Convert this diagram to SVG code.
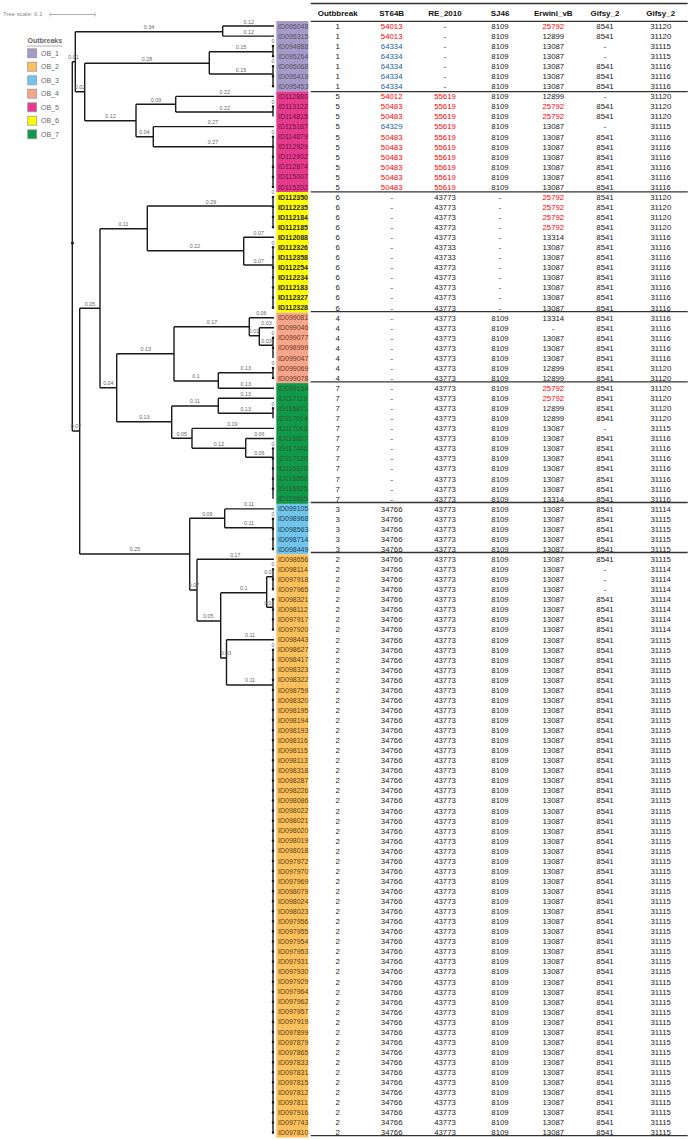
<svg xmlns="http://www.w3.org/2000/svg" xmlns:xlink="http://www.w3.org/1999/xlink" width="691" height="1140" viewBox="0 0 691 1140">
<style>
.t{font-family:"Liberation Sans",Arial,sans-serif;font-size:7.8px;fill:#1a1a1a;text-anchor:middle}
.r{fill:#ff0000}
.b{fill:#215fa6}
.hd{font-family:"Liberation Sans",Arial,sans-serif;font-size:8px;font-weight:bold;fill:#111;text-anchor:middle}
.lb{font-family:"Liberation Sans",Arial,sans-serif;font-size:7px}
.bl{font-family:"Liberation Sans",Arial,sans-serif;font-size:5.3px;fill:#666;text-anchor:middle}
.tr{stroke:#1a1a1a;stroke-width:1.4;fill:none}
.dots{stroke:#1a1a1a;stroke-width:2.6;stroke-linecap:round;stroke-dasharray:0 10.06;fill:none}
.sep{stroke:#333;stroke-width:1.3}
.lg{font-family:"Liberation Sans",Arial,sans-serif;font-size:7px;fill:#666}
.sq{stroke:#999;stroke-width:0.8}
.ob1 text{fill:#555}
.ob5 text{fill:#6e1538}
.ob6 text{fill:#222;font-weight:bold}
.ob4 text{fill:#6a3a2c}
.ob7 text{fill:#2f5a38}
.ob3 text{fill:#22405a}
.ob2 text{fill:#5a4312}
</style>
<defs>
<g id="T1a" class="t" transform="translate(0,2.8)"><text x="337.7">1</text><text x="391.7" class="r">54013</text><text x="445">-</text><text x="500">8109</text><text x="553.3" class="r">25792</text><text x="605">8541</text><text x="660.7">31120</text></g>
<g id="T1b" class="t" transform="translate(0,2.8)"><text x="337.7">1</text><text x="391.7" class="r">54013</text><text x="445">-</text><text x="500">8109</text><text x="553.3">12899</text><text x="605">8541</text><text x="660.7">31120</text></g>
<g id="T1c" class="t" transform="translate(0,2.8)"><text x="337.7">1</text><text x="391.7" class="b">64334</text><text x="445">-</text><text x="500">8109</text><text x="553.3">13087</text><text x="605">-</text><text x="660.7">31115</text></g>
<g id="T1d" class="t" transform="translate(0,2.8)"><text x="337.7">1</text><text x="391.7" class="b">64334</text><text x="445">-</text><text x="500">8109</text><text x="553.3">13087</text><text x="605">8541</text><text x="660.7">31116</text></g>
<g id="T5a" class="t" transform="translate(0,2.8)"><text x="337.7">5</text><text x="391.7" class="r">54012</text><text x="445" class="r">55619</text><text x="500">8109</text><text x="553.3">12899</text><text x="605">-</text><text x="660.7">31120</text></g>
<g id="T5b" class="t" transform="translate(0,2.8)"><text x="337.7">5</text><text x="391.7" class="r">50483</text><text x="445" class="r">55619</text><text x="500">8109</text><text x="553.3" class="r">25792</text><text x="605">8541</text><text x="660.7">31120</text></g>
<g id="T5c" class="t" transform="translate(0,2.8)"><text x="337.7">5</text><text x="391.7" class="b">64329</text><text x="445" class="r">55619</text><text x="500">8109</text><text x="553.3">13087</text><text x="605">-</text><text x="660.7">31115</text></g>
<g id="T5d" class="t" transform="translate(0,2.8)"><text x="337.7">5</text><text x="391.7" class="r">50483</text><text x="445" class="r">55619</text><text x="500">8109</text><text x="553.3">13087</text><text x="605">8541</text><text x="660.7">31116</text></g>
<g id="T6a" class="t" transform="translate(0,2.8)"><text x="337.7">6</text><text x="391.7">-</text><text x="445">43773</text><text x="500">-</text><text x="553.3" class="r">25792</text><text x="605">8541</text><text x="660.7">31120</text></g>
<g id="T6b" class="t" transform="translate(0,2.8)"><text x="337.7">6</text><text x="391.7">-</text><text x="445">43773</text><text x="500">-</text><text x="553.3">13314</text><text x="605">8541</text><text x="660.7">31116</text></g>
<g id="T6c" class="t" transform="translate(0,2.8)"><text x="337.7">6</text><text x="391.7">-</text><text x="445">43733</text><text x="500">-</text><text x="553.3">13087</text><text x="605">8541</text><text x="660.7">31116</text></g>
<g id="T6d" class="t" transform="translate(0,2.8)"><text x="337.7">6</text><text x="391.7">-</text><text x="445">43773</text><text x="500">-</text><text x="553.3">13087</text><text x="605">8541</text><text x="660.7">31116</text></g>
<g id="T4a" class="t" transform="translate(0,2.8)"><text x="337.7">4</text><text x="391.7">-</text><text x="445">43773</text><text x="500">8109</text><text x="553.3">13314</text><text x="605">8541</text><text x="660.7">31116</text></g>
<g id="T4b" class="t" transform="translate(0,2.8)"><text x="337.7">4</text><text x="391.7">-</text><text x="445">43773</text><text x="500">8109</text><text x="553.3">-</text><text x="605">8541</text><text x="660.7">31116</text></g>
<g id="T4c" class="t" transform="translate(0,2.8)"><text x="337.7">4</text><text x="391.7">-</text><text x="445">43773</text><text x="500">8109</text><text x="553.3">13087</text><text x="605">8541</text><text x="660.7">31116</text></g>
<g id="T4d" class="t" transform="translate(0,2.8)"><text x="337.7">4</text><text x="391.7">-</text><text x="445">43773</text><text x="500">8109</text><text x="553.3">12899</text><text x="605">8541</text><text x="660.7">31120</text></g>
<g id="T7a" class="t" transform="translate(0,2.8)"><text x="337.7">7</text><text x="391.7">-</text><text x="445">43773</text><text x="500">8109</text><text x="553.3" class="r">25792</text><text x="605">8541</text><text x="660.7">31120</text></g>
<g id="T7b" class="t" transform="translate(0,2.8)"><text x="337.7">7</text><text x="391.7">-</text><text x="445">43773</text><text x="500">8109</text><text x="553.3">12899</text><text x="605">8541</text><text x="660.7">31120</text></g>
<g id="T7c" class="t" transform="translate(0,2.8)"><text x="337.7">7</text><text x="391.7">-</text><text x="445">43773</text><text x="500">8109</text><text x="553.3">13087</text><text x="605">-</text><text x="660.7">31115</text></g>
<g id="T7d" class="t" transform="translate(0,2.8)"><text x="337.7">7</text><text x="391.7">-</text><text x="445">43773</text><text x="500">8109</text><text x="553.3">13087</text><text x="605">8541</text><text x="660.7">31116</text></g>
<g id="T7e" class="t" transform="translate(0,2.8)"><text x="337.7">7</text><text x="391.7">-</text><text x="445">43773</text><text x="500">8109</text><text x="553.3">13314</text><text x="605">8541</text><text x="660.7">31116</text></g>
<g id="T3a" class="t" transform="translate(0,2.8)"><text x="337.7">3</text><text x="391.7">34766</text><text x="445">43773</text><text x="500">8109</text><text x="553.3">13087</text><text x="605">8541</text><text x="660.7">31114</text></g>
<g id="T3b" class="t" transform="translate(0,2.8)"><text x="337.7">3</text><text x="391.7">34766</text><text x="445">43773</text><text x="500">8109</text><text x="553.3">13087</text><text x="605">8541</text><text x="660.7">31115</text></g>
<g id="T2a" class="t" transform="translate(0,2.8)"><text x="337.7">2</text><text x="391.7">34766</text><text x="445">43773</text><text x="500">8109</text><text x="553.3">13087</text><text x="605">8541</text><text x="660.7">31115</text></g>
<g id="T2b" class="t" transform="translate(0,2.8)"><text x="337.7">2</text><text x="391.7">34766</text><text x="445">43773</text><text x="500">8109</text><text x="553.3">13087</text><text x="605">-</text><text x="660.7">31114</text></g>
<g id="T2c" class="t" transform="translate(0,2.8)"><text x="337.7">2</text><text x="391.7">34766</text><text x="445">43773</text><text x="500">8109</text><text x="553.3">13087</text><text x="605">8541</text><text x="660.7">31114</text></g>
</defs>
<rect width="691" height="1140" fill="#fff"/>

<g id="legend">
<text x="3" y="16" font-family="Liberation Sans, Arial, sans-serif" font-size="6px" fill="#888">Tree scale: 0.1</text>
<path d="M50 14.5H95M50 12.5V16.5M95 12.5V16.5" stroke="#999" stroke-width="0.8" fill="none"/>
<text x="27.5" y="42.5" class="lg" font-weight="bold" fill="#555">Outbreaks</text>
<line x1="27" y1="46" x2="62" y2="46" stroke="#999" stroke-width="0.8"/>
<rect class="sq" x="27.7" y="48.8" width="9" height="9" fill="#a59bcb"/><text class="lg" x="41" y="55.8">OB_1</text>
<rect class="sq" x="27.7" y="62.2" width="9" height="9" fill="#fcc05e"/><text class="lg" x="41" y="69.2">OB_2</text>
<rect class="sq" x="27.7" y="75.8" width="9" height="9" fill="#71c5ea"/><text class="lg" x="41" y="82.8">OB_3</text>
<rect class="sq" x="27.7" y="89.2" width="9" height="9" fill="#f8a68a"/><text class="lg" x="41" y="96.2">OB_4</text>
<rect class="sq" x="27.7" y="102.8" width="9" height="9" fill="#e53a8e"/><text class="lg" x="41" y="109.8">OB_5</text>
<rect class="sq" x="27.7" y="116.2" width="9" height="9" fill="#ffff00"/><text class="lg" x="41" y="123.2">OB_6</text>
<rect class="sq" x="27.7" y="129.8" width="9" height="9" fill="#10994a"/><text class="lg" x="41" y="136.8">OB_7</text>
</g>

<g id="connectors">
<path class="tr" d="M72.3 61.7V431M72.3 61.7H75.3M75.3 31.7V91.7M75.3 31.7H222.7M222.7 26V36.1M222.7 26H274M222.7 36.1H274
M75.3 91.7H84.7M84.7 63.3V120.7M84.7 63.3H209.3M209.3 51.7V74M209.3 51.7H273M209.3 74H273
M84.7 120.7H136M136 104.3V136.7M136 104.3H175.7M175.7 96.4V112M175.7 96.4H274M175.7 112H273
M136 136.7H153.3M153.3 126.6V146.7M153.3 126.6H274M153.3 146.7H273
M72.3 431H79.7M79.7 308.3V554M79.7 308.3H100M100 228.7V387.7M100 228.7H147.3M147.3 206V250.7M147.3 206H273
M147.3 250.7H243.7M243.7 237.3V265M243.7 237.3H274M243.7 265H273
M100 387.7H116.7M116.7 353.7V421.7M116.7 353.7H174M174 326.7V381M174 326.7H249.3M249.3 317.7V335.7M249.3 317.7H274
M249.3 335.7H259.3M259.3 327.8V345.3M259.3 327.8H274M259.3 345.3H273
M174 381H218.3M218.3 372.7V388.2M218.3 372.7H273M218.3 388.2H274
M116.7 421.7H171.7M171.7 406V438.3M171.7 406H218.3M218.3 398.2V413.3M218.3 398.2H274M218.3 413.3H273
M171.7 438.3H192M192 428.4V448.3M192 428.4H274M192 448.3H245.7M245.7 438.5V457.3M245.7 438.5H274M245.7 457.3H273
M79.7 554H189.7M189.7 518.3V590M189.7 518.3H224.7M224.7 508.9V527.7M224.7 508.9H274M224.7 527.7H273
M189.7 590H197M197 559.2V621M197 559.2H274M197 621H220.7M220.7 592.7V658M220.7 592.7H266.7M266.7 576.7V607.3M266.7 576.7H273M266.7 607.3H273
M220.7 658H226.5M226.5 639.7V685M226.5 639.7H274M226.5 685H273
M273 46.1V56.2M273 66.2V86.4M273 106.5V116.5M273 136.7V187M273 197V227.2M273 247.3V307.7M273 337.9V358M273 368V378.1M273 408.3V418.3M273 448.5V498.8M273 518.9V549.1M273 569.2V589.4M273 599.4V629.6M273 649.7V1132.6"/>
<path class="dots" d="M273 46.1V56.2M273 66.2V86.4M273 106.5V116.5M273 136.7V187M273 197V227.2M273 247.3V307.7M273 337.9V358M273 368V378.1M273 408.3V418.3M273 448.5V498.8M273 518.9V549.1M273 569.2V589.4M273 599.4V629.6M273 649.7V1132.6"/>
<circle cx="72.5" cy="243" r="1.6" fill="#222"/>
<g class="bl">
<text x="73.5" y="59">0.01</text><text x="149" y="29">0.34</text><text x="248.7" y="23.5">0.12</text><text x="248.7" y="33.5">0.12</text>
<text x="80" y="89">0.02</text><text x="147" y="60.7">0.28</text><text x="241" y="49">0.15</text><text x="241" y="71.5">0.15</text>
<text x="110.5" y="118">0.12</text><text x="156" y="101.7">0.09</text><text x="224.7" y="94">0.22</text><text x="224.7" y="109.5">0.22</text>
<text x="144.5" y="134">0.04</text><text x="213" y="124">0.27</text><text x="213" y="144">0.27</text>
<text x="76" y="428.3">0.07</text><text x="90" y="305.7">0.05</text><text x="123.5" y="226">0.11</text><text x="211" y="203.5">0.29</text>
<text x="195" y="248">0.22</text><text x="258.7" y="234.8">0.07</text><text x="258.7" y="262.5">0.07</text>
<text x="108.3" y="385">0.04</text><text x="145.7" y="351">0.13</text><text x="212" y="324">0.17</text><text x="261.3" y="315">0.06</text>
<text x="254" y="333">0.01</text><text x="266.5" y="325.2">0.03</text><text x="266.5" y="342.7">0.03</text>
<text x="196" y="378.3">0.1</text><text x="245.7" y="370">0.13</text><text x="245.7" y="385.6">0.13</text>
<text x="144.3" y="419">0.13</text><text x="195" y="403.2">0.11</text><text x="245.7" y="395.6">0.13</text><text x="245.7" y="410.7">0.13</text>
<text x="181.7" y="435.7">0.05</text><text x="232.3" y="425.8">0.19</text><text x="219" y="445.7">0.12</text><text x="259.3" y="435.9">0.06</text><text x="259.3" y="454.7">0.06</text>
<text x="135" y="551.3">0.25</text><text x="207.3" y="515.7">0.09</text><text x="249" y="506.3">0.11</text><text x="249" y="525.1">0.11</text>
<text x="194" y="587.4">0.07</text><text x="235.3" y="556.6">0.17</text><text x="208.3" y="618.4">0.05</text><text x="243.7" y="590.1">0.1</text>
<text x="269.3" y="574.1">0.01</text><text x="269.3" y="604.7">0.01</text><text x="226" y="655.3">0.03</text>
<text x="250" y="637.1">0.11</text><text x="250" y="682.4">0.11</text>
<text x="273" y="43.3">0</text><text x="273" y="63.4">0</text><text x="273" y="103.7">0</text><text x="273" y="133.9">0</text><text x="273" y="194.2">0</text>
<text x="273" y="244.5">0</text><text x="273" y="335.1">0</text><text x="273" y="365.2">0</text><text x="273" y="405.5">0</text><text x="273" y="445.7">0</text>
<text x="273" y="516.1">0</text><text x="273" y="566.4">0</text><text x="273" y="646.9">0</text>
</g>
</g>

<g id="table-frame">
<line class="sep" x1="310.7" y1="3.5" x2="687.7" y2="3.5" stroke-width="1.6"/>
<line class="sep" x1="310.7" y1="21.3" x2="687.7" y2="21.3" stroke-width="1.6"/>
<text class="hd" x="337.7" y="16.2">Outbbreak</text><text class="hd" x="391.7" y="16.2">ST64B</text><text class="hd" x="445" y="16.2">RE_2010</text><text class="hd" x="500" y="16.2">SJ46</text><text class="hd" x="553.3" y="16.2">Erwini_vB</text><text class="hd" x="605" y="16.2">Gifsy_2</text><text class="hd" x="660.7" y="16.2">Gifsy_2</text>
<line class="sep" x1="310.7" y1="91.7" x2="687.7" y2="91.7"/>
<line class="sep" x1="310.7" y1="191.8" x2="687.7" y2="191.8"/>
<line class="sep" x1="310.7" y1="311.6" x2="687.7" y2="311.6"/>
<line class="sep" x1="310.7" y1="381.8" x2="687.7" y2="381.8"/>
<line class="sep" x1="310.7" y1="502.5" x2="687.7" y2="502.5"/>
<line class="sep" x1="310.7" y1="552.5" x2="687.7" y2="552.5"/>
<line class="sep" x1="310.7" y1="1135.6" x2="687.7" y2="1135.6"/>
</g>

<g id="OB_1" class="ob1">
<rect x="276.3" y="21" width="32" height="70.4" fill="#a59bcb"/>
<g id="ID095048"><text class="lb" x="278" y="28.5">ID095048</text><use xlink:href="#T1a" y="26"/></g>
<g id="ID095315"><text class="lb" x="278" y="38.6">ID095315</text><use xlink:href="#T1b" y="36.1"/></g>
<g id="ID094888"><text class="lb" x="278" y="48.6">ID094888</text><use xlink:href="#T1c" y="46.1"/></g>
<g id="ID095264"><text class="lb" x="278" y="58.7">ID095264</text><use xlink:href="#T1c" y="56.2"/></g>
<g id="ID095068"><text class="lb" x="278" y="68.7">ID095068</text><use xlink:href="#T1d" y="66.2"/></g>
<g id="ID095419"><text class="lb" x="278" y="78.8">ID095419</text><use xlink:href="#T1d" y="76.3"/></g>
<g id="ID095453"><text class="lb" x="278" y="88.9">ID095453</text><use xlink:href="#T1d" y="86.4"/></g>
</g>

<g id="OB_5" class="ob5">
<rect x="276.3" y="91.4" width="32" height="100.6" fill="#e53a8e"/>
<g id="ID112880"><text class="lb" x="278" y="98.9">ID112880</text><use xlink:href="#T5a" y="96.4"/></g>
<g id="ID113122"><text class="lb" x="278" y="109">ID113122</text><use xlink:href="#T5b" y="106.5"/></g>
<g id="ID114815"><text class="lb" x="278" y="119">ID114815</text><use xlink:href="#T5b" y="116.5"/></g>
<g id="ID115167"><text class="lb" x="278" y="129.1">ID115167</text><use xlink:href="#T5c" y="126.6"/></g>
<g id="ID114879"><text class="lb" x="278" y="139.2">ID114879</text><use xlink:href="#T5d" y="136.7"/></g>
<g id="ID112929"><text class="lb" x="278" y="149.2">ID112929</text><use xlink:href="#T5d" y="146.7"/></g>
<g id="ID112902"><text class="lb" x="278" y="159.3">ID112902</text><use xlink:href="#T5d" y="156.8"/></g>
<g id="ID112874"><text class="lb" x="278" y="169.3">ID112874</text><use xlink:href="#T5d" y="166.8"/></g>
<g id="ID115007"><text class="lb" x="278" y="179.4">ID115007</text><use xlink:href="#T5d" y="176.9"/></g>
<g id="ID115202"><text class="lb" x="278" y="189.5">ID115202</text><use xlink:href="#T5d" y="187"/></g>
</g>

<g id="OB_6" class="ob6">
<rect x="276.3" y="192" width="32" height="120.7" fill="#ffff00"/>
<g id="ID112350"><text class="lb" x="278" y="199.5">ID112350</text><use xlink:href="#T6a" y="197"/></g>
<g id="ID112235"><text class="lb" x="278" y="209.6">ID112235</text><use xlink:href="#T6a" y="207.1"/></g>
<g id="ID112184"><text class="lb" x="278" y="219.6">ID112184</text><use xlink:href="#T6a" y="217.1"/></g>
<g id="ID112185"><text class="lb" x="278" y="229.7">ID112185</text><use xlink:href="#T6a" y="227.2"/></g>
<g id="ID112088"><text class="lb" x="278" y="239.8">ID112088</text><use xlink:href="#T6b" y="237.3"/></g>
<g id="ID112326"><text class="lb" x="278" y="249.8">ID112326</text><use xlink:href="#T6c" y="247.3"/></g>
<g id="ID112358"><text class="lb" x="278" y="259.9">ID112358</text><use xlink:href="#T6c" y="257.4"/></g>
<g id="ID112254"><text class="lb" x="278" y="269.9">ID112254</text><use xlink:href="#T6d" y="267.4"/></g>
<g id="ID112234"><text class="lb" x="278" y="280">ID112234</text><use xlink:href="#T6d" y="277.5"/></g>
<g id="ID112183"><text class="lb" x="278" y="290.1">ID112183</text><use xlink:href="#T6d" y="287.6"/></g>
<g id="ID112327"><text class="lb" x="278" y="300.1">ID112327</text><use xlink:href="#T6d" y="297.6"/></g>
<g id="ID112328"><text class="lb" x="278" y="310.2">ID112328</text><use xlink:href="#T6d" y="307.7"/></g>
</g>

<g id="OB_4" class="ob4">
<rect x="276.3" y="312.7" width="32" height="70.4" fill="#f8a68a"/>
<g id="ID099081"><text class="lb" x="278" y="320.2">ID099081</text><use xlink:href="#T4a" y="317.7"/></g>
<g id="ID099046"><text class="lb" x="278" y="330.3">ID099046</text><use xlink:href="#T4b" y="327.8"/></g>
<g id="ID099077"><text class="lb" x="278" y="340.4">ID099077</text><use xlink:href="#T4c" y="337.9"/></g>
<g id="ID098999"><text class="lb" x="278" y="350.4">ID098999</text><use xlink:href="#T4c" y="347.9"/></g>
<g id="ID099047"><text class="lb" x="278" y="360.5">ID099047</text><use xlink:href="#T4c" y="358"/></g>
<g id="ID099069"><text class="lb" x="278" y="370.5">ID099069</text><use xlink:href="#T4d" y="368"/></g>
<g id="ID099078"><text class="lb" x="278" y="380.6">ID099078</text><use xlink:href="#T4d" y="378.1"/></g>
</g>

<g id="OB_7" class="ob7">
<rect x="276.3" y="383.1" width="32" height="120.8" fill="#10994a"/>
<g id="ID099154"><text class="lb" x="278" y="390.7">ID099154</text><use xlink:href="#T7a" y="388.2"/></g>
<g id="ID117119"><text class="lb" x="278" y="400.7">ID117119</text><use xlink:href="#T7a" y="398.2"/></g>
<g id="ID116871"><text class="lb" x="278" y="410.8">ID116871</text><use xlink:href="#T7b" y="408.3"/></g>
<g id="ID117014"><text class="lb" x="278" y="420.8">ID117014</text><use xlink:href="#T7b" y="418.3"/></g>
<g id="ID117018"><text class="lb" x="278" y="430.9">ID117018</text><use xlink:href="#T7c" y="428.4"/></g>
<g id="ID116867"><text class="lb" x="278" y="441">ID116867</text><use xlink:href="#T7d" y="438.5"/></g>
<g id="ID117446"><text class="lb" x="278" y="451">ID117446</text><use xlink:href="#T7d" y="448.5"/></g>
<g id="ID117120"><text class="lb" x="278" y="461.1">ID117120</text><use xlink:href="#T7d" y="458.6"/></g>
<g id="ID116870"><text class="lb" x="278" y="471.1">ID116870</text><use xlink:href="#T7d" y="468.6"/></g>
<g id="ID116866"><text class="lb" x="278" y="481.2">ID116866</text><use xlink:href="#T7d" y="478.7"/></g>
<g id="ID116825"><text class="lb" x="278" y="491.3">ID116825</text><use xlink:href="#T7d" y="488.8"/></g>
<g id="ID116865"><text class="lb" x="278" y="501.3">ID116865</text><use xlink:href="#T7e" y="498.8"/></g>
</g>

<g id="OB_3" class="ob3">
<rect x="276.3" y="503.9" width="32" height="50.3" fill="#71c5ea"/>
<g id="ID099105"><text class="lb" x="278" y="511.4">ID099105</text><use xlink:href="#T3a" y="508.9"/></g>
<g id="ID098968"><text class="lb" x="278" y="521.4">ID098968</text><use xlink:href="#T3b" y="518.9"/></g>
<g id="ID098563"><text class="lb" x="278" y="531.5">ID098563</text><use xlink:href="#T3b" y="529"/></g>
<g id="ID098714"><text class="lb" x="278" y="541.6">ID098714</text><use xlink:href="#T3b" y="539.1"/></g>
<g id="ID098449"><text class="lb" x="278" y="551.6">ID098449</text><use xlink:href="#T3b" y="549.1"/></g>
</g>

<g id="OB_2" class="ob2">
<rect x="276.3" y="554.2" width="32" height="583.4" fill="#fcc05e"/>
<g id="ID098656"><text class="lb" x="278" y="561.7">ID098656</text><use xlink:href="#T2a" y="559.2"/></g>
<g id="ID098114"><text class="lb" x="278" y="571.7">ID098114</text><use xlink:href="#T2b" y="569.2"/></g>
<g id="ID097918"><text class="lb" x="278" y="581.8">ID097918</text><use xlink:href="#T2b" y="579.3"/></g>
<g id="ID097965"><text class="lb" x="278" y="591.9">ID097965</text><use xlink:href="#T2b" y="589.4"/></g>
<g id="ID098321"><text class="lb" x="278" y="601.9">ID098321</text><use xlink:href="#T2c" y="599.4"/></g>
<g id="ID098112"><text class="lb" x="278" y="612">ID098112</text><use xlink:href="#T2c" y="609.5"/></g>
<g id="ID097917"><text class="lb" x="278" y="622">ID097917</text><use xlink:href="#T2c" y="619.5"/></g>
<g id="ID097920"><text class="lb" x="278" y="632.1">ID097920</text><use xlink:href="#T2c" y="629.6"/></g>
<g id="ID098443"><text class="lb" x="278" y="642.2">ID098443</text><use xlink:href="#T2a" y="639.7"/></g>
<g id="ID098627"><text class="lb" x="278" y="652.2">ID098627</text><use xlink:href="#T2a" y="649.7"/></g>
<g id="ID098417"><text class="lb" x="278" y="662.3">ID098417</text><use xlink:href="#T2a" y="659.8"/></g>
<g id="ID098323"><text class="lb" x="278" y="672.3">ID098323</text><use xlink:href="#T2a" y="669.8"/></g>
<g id="ID098322"><text class="lb" x="278" y="682.4">ID098322</text><use xlink:href="#T2a" y="679.9"/></g>
<g id="ID098759"><text class="lb" x="278" y="692.5">ID098759</text><use xlink:href="#T2a" y="690"/></g>
<g id="ID098320"><text class="lb" x="278" y="702.5">ID098320</text><use xlink:href="#T2a" y="700"/></g>
<g id="ID098195"><text class="lb" x="278" y="712.6">ID098195</text><use xlink:href="#T2a" y="710.1"/></g>
<g id="ID098194"><text class="lb" x="278" y="722.6">ID098194</text><use xlink:href="#T2a" y="720.1"/></g>
<g id="ID098193"><text class="lb" x="278" y="732.7">ID098193</text><use xlink:href="#T2a" y="730.2"/></g>
<g id="ID098116"><text class="lb" x="278" y="742.8">ID098116</text><use xlink:href="#T2a" y="740.3"/></g>
<g id="ID098115"><text class="lb" x="278" y="752.8">ID098115</text><use xlink:href="#T2a" y="750.3"/></g>
<g id="ID098113"><text class="lb" x="278" y="762.9">ID098113</text><use xlink:href="#T2a" y="760.4"/></g>
<g id="ID098318"><text class="lb" x="278" y="772.9">ID098318</text><use xlink:href="#T2a" y="770.4"/></g>
<g id="ID098287"><text class="lb" x="278" y="783">ID098287</text><use xlink:href="#T2a" y="780.5"/></g>
<g id="ID098226"><text class="lb" x="278" y="793.1">ID098226</text><use xlink:href="#T2a" y="790.6"/></g>
<g id="ID098086"><text class="lb" x="278" y="803.1">ID098086</text><use xlink:href="#T2a" y="800.6"/></g>
<g id="ID098022"><text class="lb" x="278" y="813.2">ID098022</text><use xlink:href="#T2a" y="810.7"/></g>
<g id="ID098021"><text class="lb" x="278" y="823.2">ID098021</text><use xlink:href="#T2a" y="820.7"/></g>
<g id="ID098020"><text class="lb" x="278" y="833.3">ID098020</text><use xlink:href="#T2a" y="830.8"/></g>
<g id="ID098019"><text class="lb" x="278" y="843.4">ID098019</text><use xlink:href="#T2a" y="840.9"/></g>
<g id="ID098018"><text class="lb" x="278" y="853.4">ID098018</text><use xlink:href="#T2a" y="850.9"/></g>
<g id="ID097972"><text class="lb" x="278" y="863.5">ID097972</text><use xlink:href="#T2a" y="861"/></g>
<g id="ID097970"><text class="lb" x="278" y="873.5">ID097970</text><use xlink:href="#T2a" y="871"/></g>
<g id="ID097969"><text class="lb" x="278" y="883.6">ID097969</text><use xlink:href="#T2a" y="881.1"/></g>
<g id="ID098079"><text class="lb" x="278" y="893.7">ID098079</text><use xlink:href="#T2a" y="891.2"/></g>
<g id="ID098024"><text class="lb" x="278" y="903.7">ID098024</text><use xlink:href="#T2a" y="901.2"/></g>
<g id="ID098023"><text class="lb" x="278" y="913.8">ID098023</text><use xlink:href="#T2a" y="911.3"/></g>
<g id="ID097956"><text class="lb" x="278" y="923.8">ID097956</text><use xlink:href="#T2a" y="921.3"/></g>
<g id="ID097955"><text class="lb" x="278" y="933.9">ID097955</text><use xlink:href="#T2a" y="931.4"/></g>
<g id="ID097954"><text class="lb" x="278" y="944">ID097954</text><use xlink:href="#T2a" y="941.5"/></g>
<g id="ID097953"><text class="lb" x="278" y="954">ID097953</text><use xlink:href="#T2a" y="951.5"/></g>
<g id="ID097931"><text class="lb" x="278" y="964.1">ID097931</text><use xlink:href="#T2a" y="961.6"/></g>
<g id="ID097930"><text class="lb" x="278" y="974.1">ID097930</text><use xlink:href="#T2a" y="971.6"/></g>
<g id="ID097929"><text class="lb" x="278" y="984.2">ID097929</text><use xlink:href="#T2a" y="981.7"/></g>
<g id="ID097964"><text class="lb" x="278" y="994.3">ID097964</text><use xlink:href="#T2a" y="991.8"/></g>
<g id="ID097962"><text class="lb" x="278" y="1004.3">ID097962</text><use xlink:href="#T2a" y="1001.8"/></g>
<g id="ID097957"><text class="lb" x="278" y="1014.4">ID097957</text><use xlink:href="#T2a" y="1011.9"/></g>
<g id="ID097919"><text class="lb" x="278" y="1024.4">ID097919</text><use xlink:href="#T2a" y="1021.9"/></g>
<g id="ID097899"><text class="lb" x="278" y="1034.5">ID097899</text><use xlink:href="#T2a" y="1032"/></g>
<g id="ID097879"><text class="lb" x="278" y="1044.6">ID097879</text><use xlink:href="#T2a" y="1042.1"/></g>
<g id="ID097865"><text class="lb" x="278" y="1054.6">ID097865</text><use xlink:href="#T2a" y="1052.1"/></g>
<g id="ID097833"><text class="lb" x="278" y="1064.7">ID097833</text><use xlink:href="#T2a" y="1062.2"/></g>
<g id="ID097831"><text class="lb" x="278" y="1074.7">ID097831</text><use xlink:href="#T2a" y="1072.2"/></g>
<g id="ID097815"><text class="lb" x="278" y="1084.8">ID097815</text><use xlink:href="#T2a" y="1082.3"/></g>
<g id="ID097812"><text class="lb" x="278" y="1094.9">ID097812</text><use xlink:href="#T2a" y="1092.4"/></g>
<g id="ID097811"><text class="lb" x="278" y="1104.9">ID097811</text><use xlink:href="#T2a" y="1102.4"/></g>
<g id="ID097916"><text class="lb" x="278" y="1115">ID097916</text><use xlink:href="#T2a" y="1112.5"/></g>
<g id="ID097743"><text class="lb" x="278" y="1125">ID097743</text><use xlink:href="#T2a" y="1122.5"/></g>
<g id="ID097810"><text class="lb" x="278" y="1135.1">ID097810</text><use xlink:href="#T2a" y="1132.6"/></g>
</g>
</svg>
